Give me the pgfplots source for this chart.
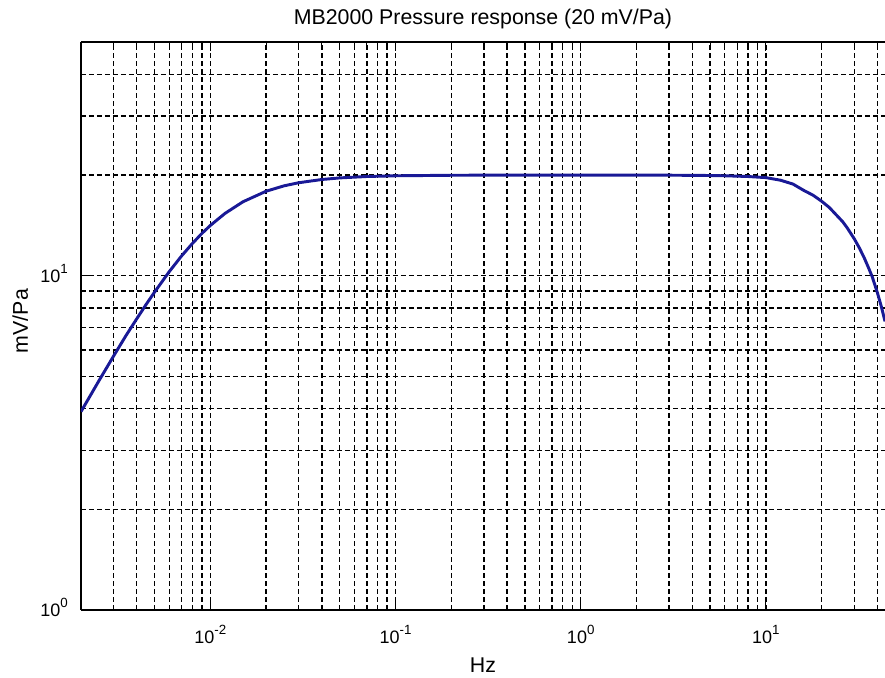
\documentclass[border=0pt]{standalone}
\usepackage{fontspec}
\setmainfont{Liberation Sans}
\usepackage{pgfplots}
\pgfplotsset{compat=1.18}
\usetikzlibrary{calc}
\definecolor{curve}{RGB}{25,25,150}
\newcommand{\tl}[1]{{\fontsize{13.5}{15}\selectfont 10\raisebox{0.5em}{\fontsize{10}{11}\selectfont #1}}}
\begin{document}
\begin{tikzpicture}
\begin{axis}[name=ax, scale only axis, width=603pt, height=426pt,
  xmode=log, ymode=log, xmin=0.002, xmax=44, ymin=1, ymax=50,
  axis y line*=left,
  axis line style={black, line width=0.9pt},
  xtick={0.01,0.1,1,10},
  xticklabels={\tl{-2},\tl{-1},\tl{0},\tl{1}},
  ytick={1,10},
  yticklabels={\tl{0},\tl{1}},
  minor xtick={0.002,0.003,0.004,0.005,0.006,0.007,0.008,0.009,0.02,0.03,0.04,0.05,0.06,0.07,0.08,0.09,0.2,0.3,0.4,0.5,0.6,0.7,0.8,0.9,2,3,4,5,6,7,8,9,20,30,40},
  minor ytick={2,3,4,5,6,7,8,9,20,30,40},
  grid=both,
  major grid style={black, line width=1pt, dash pattern=on 3.5pt off 2.5pt},
  minor grid style={black, line width=1pt, dash pattern=on 3.5pt off 2.5pt},
  tick align=inside, major tick length=7pt, minor tick length=4pt,
  tick style={black, line width=0.9pt},
  xticklabel style={anchor=base, inner sep=0pt, yshift=-25.5pt},
  yticklabel style={anchor=base east, inner sep=0pt, xshift=-9.75pt, yshift=-4.9pt},
]
\addplot[curve, line width=2.2pt] coordinates {
(0.002,3.92) (0.0025,4.85) (0.003,5.75) (0.0035,6.62) (0.004,7.43) (0.0045,8.21)
(0.005,8.94) (0.006,10.29) (0.007,11.47) (0.008,12.49) (0.009,13.38) (0.01,14.14)
(0.012,15.36) (0.015,16.64) (0.02,17.89) (0.025,18.57) (0.03,18.97) (0.04,19.40)
(0.05,19.61) (0.07,19.80) (0.1,19.90) (0.2,19.97) (0.5,20.0) (1,20.0) (2,20.0)
(3,19.98) (4.6,19.95) (6,19.9) (8,19.8) (10,19.65) (12,19.3) (14,18.8) (16,18.0)
(18,17.4) (20,16.7) (22,16.0) (24,15.2) (26,14.5) (27.5,13.9) (30,12.9) (32,12.1)
(34,11.3) (36,10.5) (37.6,9.9) (40,8.9) (42,8.1) (44,7.3)
};
\end{axis}
\node[font=\fontsize{16}{19}\selectfont, anchor=base] at ($(ax.north)+(0,12.75pt)$) {MB2000 Pressure response (20 mV/Pa)};
\node[font=\fontsize{16}{19}\selectfont, anchor=base] at ($(ax.south)+(0,-46.5pt)$) {Hz};
\node[font=\fontsize{16}{19}\selectfont, anchor=base, rotate=90] at ($(ax.west)+(-39.75pt,3.75pt)$) {mV/Pa};
\pgfresetboundingbox
\path[use as bounding box] ($(ax.south west)+(-60.75pt,-51pt)$) rectangle ($(ax.north east)+(0,31.5pt)$);
\end{tikzpicture}
\end{document}
